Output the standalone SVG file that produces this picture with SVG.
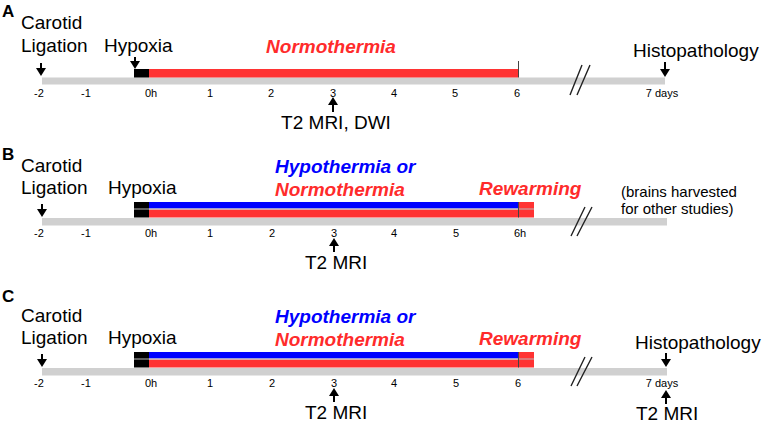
<svg xmlns="http://www.w3.org/2000/svg" width="764" height="423" viewBox="0 0 764 423">
<style>
text{font-family:"Liberation Sans",Arial,sans-serif;fill:#000}
.lbl{font-size:19px}
.pl{font-size:17px;font-weight:bold}
.tk{font-size:11px;text-anchor:middle}
.bi{font-size:19px;font-weight:bold;font-style:italic}
.red{fill:#ff2b2b}
.blu{fill:#0000ff}
.sm{font-size:15px}
.gray{fill:#d0d0d0}
.blk{fill:#000}
.rb{fill:#ff3333}
.bb{fill:#0000ff}
.arr{fill:#000}
.sl{stroke:#222;stroke-width:1.4;fill:none}
.sep{stroke:#bbb;stroke-width:1}
.vl{stroke:#444;stroke-width:1}
</style>
<g id="panelA">
<text class="pl" x="2" y="17">A</text>
<g id="A-carotid"><text class="lbl" x="21" y="29">Carotid</text><text class="lbl" x="21" y="52">Ligation</text></g>
<g id="A-hypoxia"><text class="lbl" x="104" y="52">Hypoxia</text></g>
<g id="A-normo"><text class="bi red" x="331" y="53" text-anchor="middle">Normothermia</text></g>
<g id="A-histo"><text class="lbl" x="633" y="57">Histopathology</text></g>
<g id="A-mri"><text class="lbl" x="336" y="129" text-anchor="middle">T2 MRI, DWI</text></g>
<g id="A-timeline">
<rect class="gray" x="42" y="77.5" width="623" height="7"/>
<rect class="blk" x="134" y="69" width="15" height="8.5"/>
<rect class="rb" x="149" y="69" width="369" height="8.5"/>
<line class="vl" x1="518.5" y1="61" x2="518.5" y2="77.5"/>
</g>
<g id="A-ticks">
<text class="tk" x="39" y="97">-2</text><text class="tk" x="86" y="97">-1</text><text class="tk" x="151" y="97">0h</text>
<text class="tk" x="210" y="97">1</text><text class="tk" x="271" y="97">2</text><text class="tk" x="333" y="97">3</text>
<text class="tk" x="394" y="97">4</text><text class="tk" x="455" y="97">5</text><text class="tk" x="517" y="97">6</text>
<text class="tk" x="662" y="97">7 days</text>
</g>
</g>
<g id="panelB">
<text class="pl" x="2" y="160">B</text>
<g id="B-carotid"><text class="lbl" x="21" y="172">Carotid</text><text class="lbl" x="21" y="194">Ligation</text></g>
<g id="B-hypoxia"><text class="lbl" x="108" y="194">Hypoxia</text></g>
<g id="B-temp"><text class="bi blu" x="275" y="173">Hypothermia or</text><text class="bi red" x="275" y="196">Normothermia</text></g>
<g id="B-rewarm"><text class="bi red" x="479" y="195">Rewarming</text></g>
<g id="B-brains"><text class="sm" x="621" y="197">(brains harvested</text><text class="sm" x="621" y="214">for other studies)</text></g>
<g id="B-mri"><text class="lbl" x="305" y="269">T2 MRI</text></g>
<g id="B-timeline">
<rect class="gray" x="42" y="218" width="625" height="7.5"/>
<rect class="blk" x="134" y="202" width="15" height="15.5"/>
<rect class="bb" x="149" y="202" width="369" height="6.5"/>
<rect class="rb" x="149" y="209.5" width="369" height="8"/>
<rect class="rb" x="518" y="202" width="16" height="15.5"/>
<line class="sep" x1="134" y1="209" x2="534" y2="209"/>
<line class="vl" x1="518.5" y1="202" x2="518.5" y2="217.5"/>
</g>
<g id="B-ticks">
<text class="tk" x="39" y="237">-2</text><text class="tk" x="86" y="237">-1</text><text class="tk" x="151" y="237">0h</text>
<text class="tk" x="210" y="237">1</text><text class="tk" x="272" y="237">2</text><text class="tk" x="334" y="237">3</text>
<text class="tk" x="394" y="237">4</text><text class="tk" x="456" y="237">5</text><text class="tk" x="520" y="237">6h</text>
</g>
</g>
<g id="panelC">
<text class="pl" x="2" y="302">C</text>
<g id="C-carotid"><text class="lbl" x="21" y="322">Carotid</text><text class="lbl" x="21" y="344">Ligation</text></g>
<g id="C-hypoxia"><text class="lbl" x="108" y="344">Hypoxia</text></g>
<g id="C-temp"><text class="bi blu" x="275" y="323">Hypothermia or</text><text class="bi red" x="275" y="346">Normothermia</text></g>
<g id="C-rewarm"><text class="bi red" x="479" y="345">Rewarming</text></g>
<g id="C-histo"><text class="lbl" x="635" y="349">Histopathology</text></g>
<g id="C-mri1"><text class="lbl" x="305" y="419">T2 MRI</text></g>
<g id="C-mri2"><text class="lbl" x="636" y="420">T2 MRI</text></g>
<g id="C-timeline">
<rect class="gray" x="42" y="368" width="625" height="7.5"/>
<rect class="blk" x="134" y="352" width="15" height="15.5"/>
<rect class="bb" x="149" y="352" width="369" height="6.5"/>
<rect class="rb" x="149" y="359.5" width="369" height="8"/>
<rect class="rb" x="518" y="352" width="16" height="15.5"/>
<line class="sep" x1="134" y1="359" x2="534" y2="359"/>
<line class="vl" x1="518.5" y1="352" x2="518.5" y2="367.5"/>
</g>
<g id="C-ticks">
<text class="tk" x="39" y="387">-2</text><text class="tk" x="86" y="387">-1</text><text class="tk" x="151" y="387">0h</text>
<text class="tk" x="210" y="387">1</text><text class="tk" x="272" y="387">2</text><text class="tk" x="334" y="387">3</text>
<text class="tk" x="394" y="387">4</text><text class="tk" x="456" y="387">5</text><text class="tk" x="518" y="387">6</text>
<text class="tk" x="662" y="387">7 days</text>
</g>
</g>
<g id="connectors">
<path class="arr" d="M40,63 h2 v5 h4 l-5,8 l-5,-8 h4 z"/>
<path class="arr" d="M134,57 h2 v4 h4 l-5,8 l-5,-8 h4 z"/>
<path class="arr" d="M664,62 h2 v7 h4 l-5,8 l-5,-8 h4 z"/>
<path class="arr" d="M332,112 h2 v-7 h4 l-5,-8 l-5,8 h4 z"/>
<path class="arr" d="M41,204 h2 v5 h4 l-5,8 l-5,-8 h4 z"/>
<path class="arr" d="M333,252 h2 v-6 h4 l-5,-8 l-5,8 h4 z"/>
<path class="arr" d="M41,354 h2 v5 h4 l-5,8 l-5,-8 h4 z"/>
<path class="arr" d="M665,353 h2 v6 h4 l-5,8 l-5,-8 h4 z"/>
<path class="arr" d="M333,402 h2 v-6 h4 l-5,-8 l-5,8 h4 z"/>
<path class="arr" d="M665,404 h2 v-6 h4 l-5,-8 l-5,8 h4 z"/>
<path class="sl" d="M570,95 L582,65 M577,95 L590,65"/>
<path class="sl" d="M571,236 L585,207 M577,236 L592,207"/>
<path class="sl" d="M571,386 L585,357 M577,386 L592,357"/>
</g>
</svg>
